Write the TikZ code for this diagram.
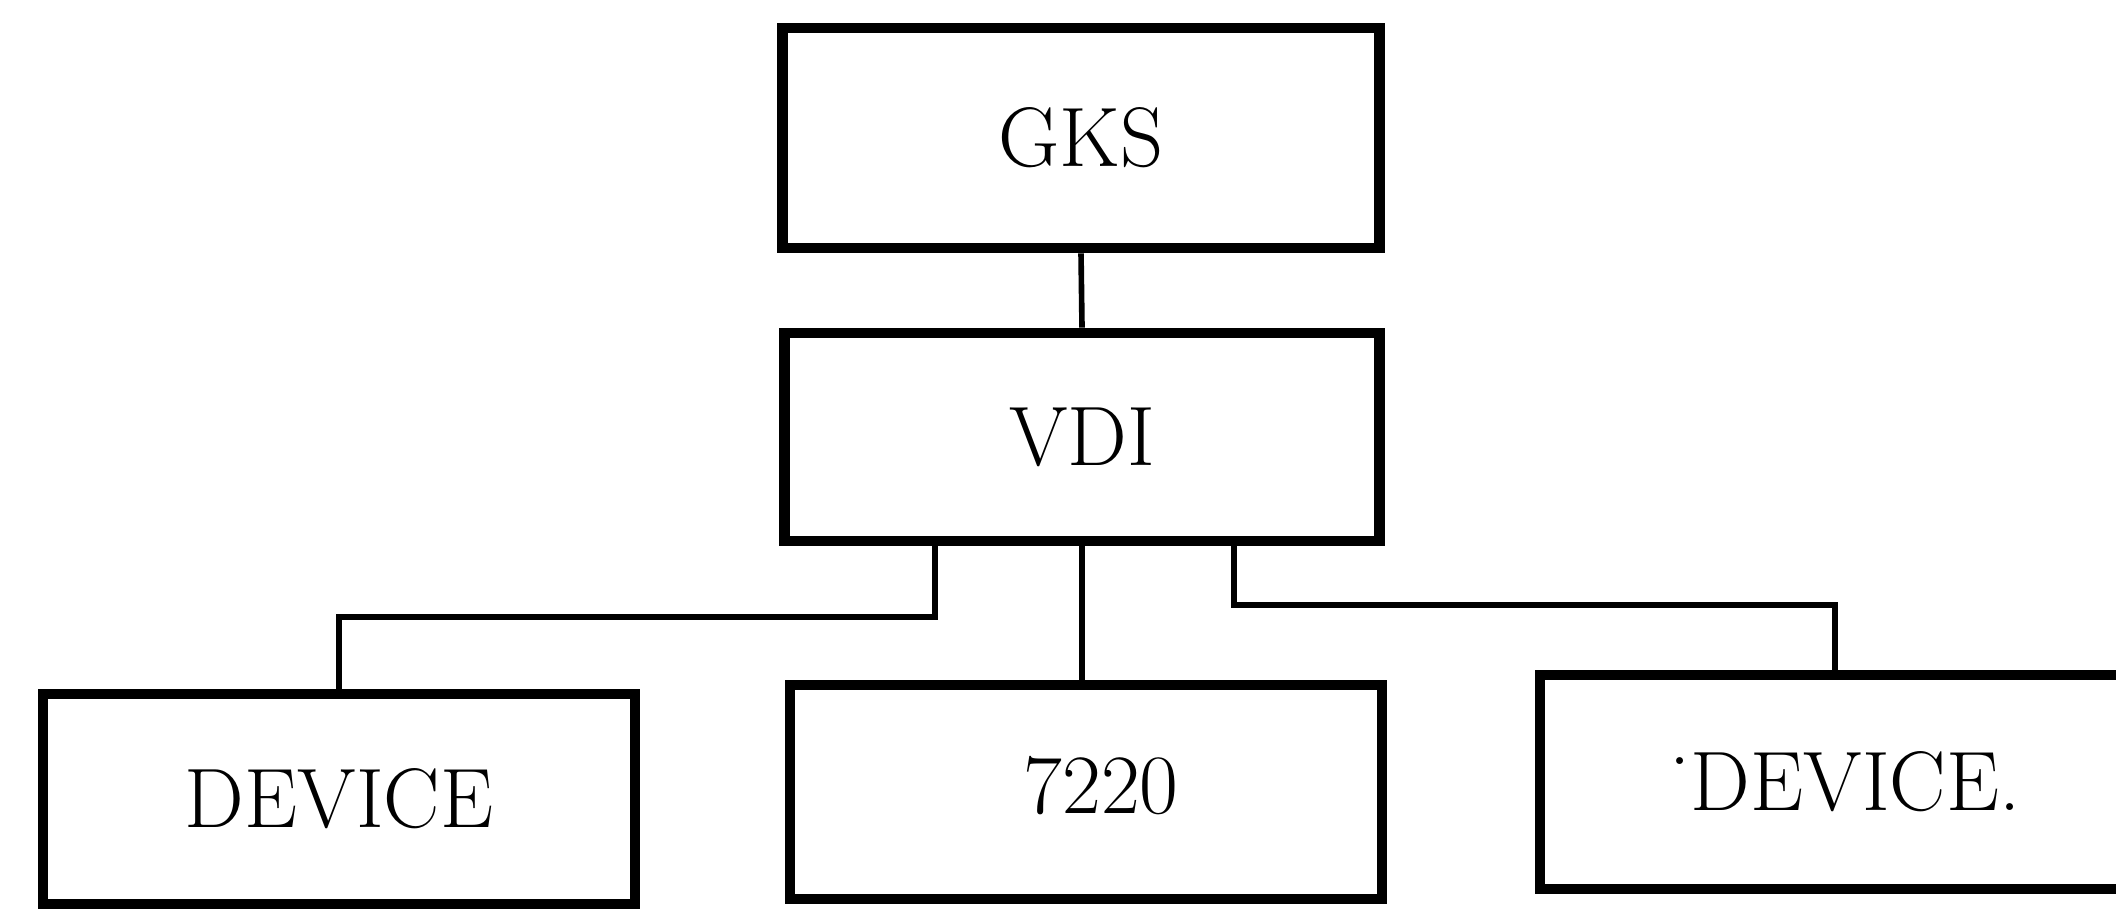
\documentclass[tikz,border=0pt]{standalone}
\usepackage{tikz}

\begin{document}
\begin{tikzpicture}[x=0.01cm, y=0.01cm,
    box/.style={draw, line width=3pt, inner sep=0pt, font=\fontsize{24}{28}\selectfont},
    link/.style={line width=1.6pt}]
    \useasboundingbox (0,0) rectangle (2116,914);

    \node[box, minimum width=5.97cm, minimum height=2.20cm] (gks) at (1081,776) {GKS};
    \node[box, minimum width=5.95cm, minimum height=2.08cm] (vdi) at (1082,477) {VDI};

    \node[box, minimum width=5.92cm, minimum height=2.10cm] (devl) at (339,115) {DEVICE};
    \node[box, minimum width=5.92cm, minimum height=2.14cm] (term) at (1086,122)
      {\hspace*{0.3cm}\raisebox{0.15cm}{7220}};
    \node[box, minimum width=5.90cm, minimum height=2.14cm] (devr) at (1835,132)
      {\hspace*{0.2cm}\raisebox{0.55em}{.}DEVICE.};

    \draw[link] (gks.south) -- (vdi.north);

    \coordinate (lbend) at (935,297);
    \coordinate (rbend) at (1234,309);
    \draw[link] (lbend |- vdi.south) -- (lbend) -| (devl.north);
    \draw[link] (vdi.south) -- (vdi.south |- term.north);
    \draw[link] (rbend |- vdi.south) -- (rbend) -| (devr.north);
\end{tikzpicture}
\end{document}
